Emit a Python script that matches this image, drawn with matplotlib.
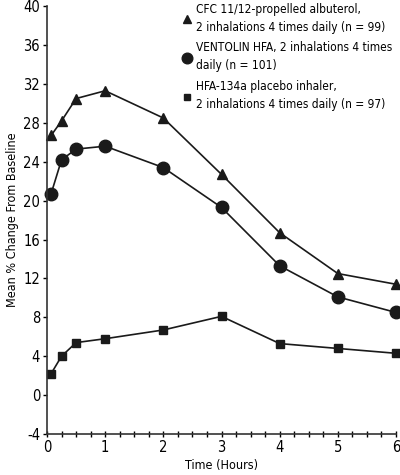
import numpy as np
import matplotlib.pyplot as plt
from matplotlib.ticker import MultipleLocator

plt.rcParams['font.family'] = ['DejaVu Sans']
plt.rcParams['font.stretch'] = 'condensed'
plt.rcParams['axes.unicode_minus'] = False

# time points (hours)
hours = [0.07, 0.25, 0.5, 1, 2, 3, 4, 5, 6]

# mean % change from baseline
cfc = [26.7, 28.2, 30.5, 31.3, 28.5, 22.7, 16.7, 12.5, 11.4]
ventolin = [20.7, 24.2, 25.3, 25.6, 23.4, 19.3, 13.3, 10.1, 8.5]
placebo = [2.2, 4.0, 5.4, 5.8, 6.7, 8.1, 5.3, 4.8, 4.3]

labels = ["CFC 11/12-propelled albuterol,\n2 inhalations 4 times daily (n = 99)",
          "VENTOLIN HFA, 2 inhalations 4 times\ndaily (n = 101)",
          "HFA-134a placebo inhaler,\n2 inhalations 4 times daily (n = 97)"]

fig = plt.figure(figsize=(4, 4.75), dpi=100)
ax = fig.add_axes([0.1175, 0.0863, 0.8725, 0.9007])

c = '#1a1a1a'
l1, = ax.plot(hours, cfc, color=c, lw=1.2, marker='^', ms=7, clip_on=False)
l2, = ax.plot(hours, ventolin, color=c, lw=1.2, marker='o', ms=9, clip_on=False)
l3, = ax.plot(hours, placebo, color=c, lw=1.2, marker='s', ms=5.5, clip_on=False)

ax.set_xlim(0, 6)
ax.set_ylim(-4, 40)
ax.set_yticks(np.arange(-4, 41, 4))
ax.set_xticks(range(7))
ax.xaxis.set_minor_locator(MultipleLocator(0.25))
ax.tick_params(axis='x', which='both', direction='inout', length=4, width=1, labelsize=10.5, pad=2)
ax.tick_params(axis='y', direction='out', length=3, width=1, labelsize=10.5, pad=2)
for s in ['top', 'right']:
    ax.spines[s].set_visible(False)
for s in ['left', 'bottom']:
    ax.spines[s].set_linewidth(1.2)
    ax.spines[s].set_color('#333333')

ax.set_xlabel('Time (Hours)', fontsize=9, labelpad=3)
ax.set_ylabel('Mean % Change From Baseline', fontsize=9, labelpad=3)

leg = fig.legend([l1, l2, l3], labels, loc='upper left', bbox_to_anchor=(0.437, 1.012),
                 frameon=False, fontsize=8.6, handlelength=0.6, handletextpad=0.5,
                 labelspacing=0.65, borderpad=0.2, markerscale=0.85)
for t in leg.get_texts():
    t.set_linespacing(1.5)
for h in leg.legend_handles:
    h.set_linestyle('')

fig.savefig('out.png', dpi=100)
